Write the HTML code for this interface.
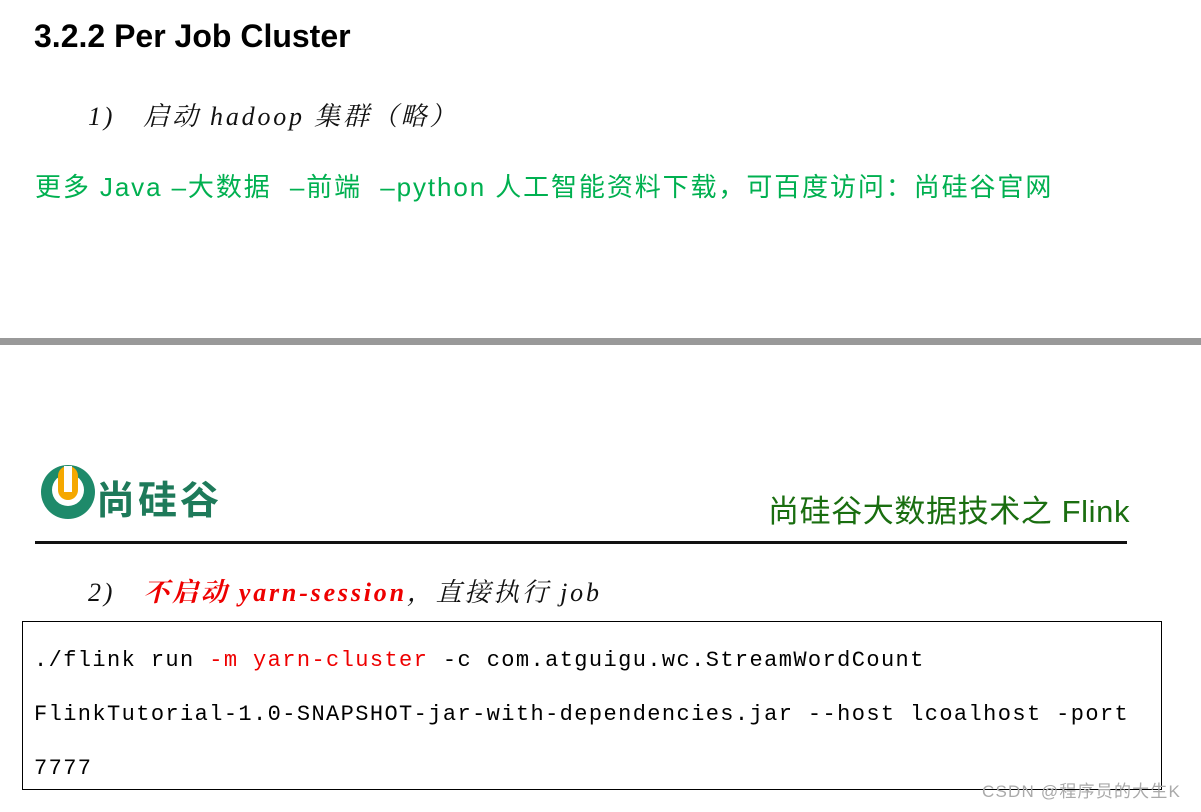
<!DOCTYPE html>
<html><head><meta charset="utf-8"><style>
body{margin:0;width:1201px;height:812px;background:#fff;position:relative;overflow:hidden}
.a{position:absolute;white-space:nowrap;line-height:1}
.ser{font-family:"Liberation Serif","Noto Serif CJK SC",serif;font-style:italic;font-size:26px;color:#111}
.mono{font-family:"Liberation Mono",monospace;font-size:22px;letter-spacing:1.4px;color:#000}
</style></head><body>
<div class="a" style="left:34px;top:18px;font:bold 32px 'Liberation Sans',sans-serif;color:#000">3.2.2 Per Job Cluster</div>
<div class="a ser" style="left:88px;top:104px;letter-spacing:2.8px">1)&nbsp;&nbsp; 启动 hadoop 集群（略）</div>
<div class="a" style="left:35px;top:174px;font-size:26px;font-family:'Liberation Sans','Noto Sans CJK SC',sans-serif;color:#00b050;letter-spacing:1.9px">更多 Java –大数据&nbsp; –前端&nbsp; –python 人工智能资料下载，可百度访问：尚硅谷官网</div>
<div class="a" style="left:0;top:338px;width:1201px;height:7px;background:#999"></div>
<svg class="a" style="left:40px;top:462px" width="60" height="60" viewBox="0 0 60 60">
<circle cx="28" cy="30" r="27" fill="#1e8a6a"/><circle cx="28" cy="28" r="16" fill="#fff"/>
<rect x="18" y="4" width="20" height="34" rx="10" fill="#f5a800"/><rect x="24" y="4" width="8" height="26" fill="#fff"/>
</svg>
<div class="a" style="left:96px;top:470px;font:bold 39px 'Noto Sans CJK SC',sans-serif;color:#1e7a5a;letter-spacing:3px">尚硅谷</div>
<div class="a" style="left:768px;top:496px;font-size:31px;font-family:'Liberation Sans','Noto Sans CJK SC',sans-serif;color:#1a6e10;letter-spacing:0.6px">尚硅谷大数据技术之 Flink</div>
<div class="a" style="left:35px;top:541px;width:1092px;height:3px;background:#111"></div>
<div class="a ser" style="left:88px;top:580px;letter-spacing:2.8px">2)&nbsp;&nbsp; <span style="color:#e00;font-weight:bold">不启动 yarn-session</span>，直接执行 job</div>
<div class="a" style="left:22px;top:621px;width:1138px;height:167px;border:1px solid #000"></div>
<div class="a mono" style="left:34px;top:650px">./flink run <span style="color:#e00">-m yarn-cluster</span> -c com.atguigu.wc.StreamWordCount</div>
<div class="a mono" style="left:34px;top:704px">FlinkTutorial-1.0-SNAPSHOT-jar-with-dependencies.jar --host lcoalhost -port</div>
<div class="a mono" style="left:34px;top:758px">7777</div>
<div class="a" style="left:982px;top:783px;font-size:17px;font-family:'Liberation Sans','Noto Sans CJK SC',sans-serif;color:#aaa;letter-spacing:1.2px">CSDN @程序员的大生K</div>
</body></html>
